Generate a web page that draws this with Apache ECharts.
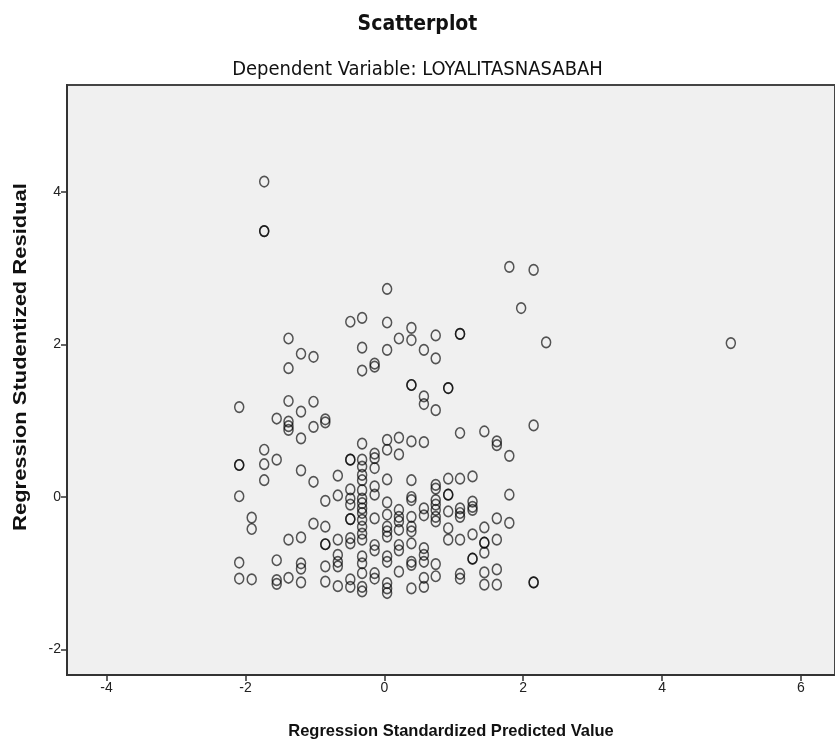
<!DOCTYPE html>
<html>
<head>
<meta charset="utf-8">
<script src="https://cdn.jsdelivr.net/npm/echarts@6/dist/echarts.min.js"></script>
<style>
html,body{margin:0;padding:0;background:#fff;}
#chart{width:835px;height:751px;}
</style>
</head>
<body>
<div id="chart"></div>
<script>
// Predicted value columns (x) and residuals (y) per column
const predictedColumns = [-2.09, -1.91, -1.73, -1.55, -1.38, -1.20, -1.02, -0.85, -0.67, -0.49, -0.32, -0.14, 0.04, 0.21, 0.39, 0.57, 0.74, 0.92, 1.09, 1.27, 1.44, 1.62, 1.80, 1.97, 2.15, 2.33, 4.99];
const residualsByColumn = [
  [1.18, 0.42, 0.42, 0.01, -0.86, -1.07],
  [-0.27, -0.42, -1.08],
  [4.14, 3.49, 3.49, 0.62, 0.43, 0.22],
  [1.03, 0.49, -0.83, -1.09, -1.14],
  [2.08, 1.69, 1.26, 0.99, 0.93, 0.88, -0.56, -1.06],
  [1.88, 1.12, 0.77, 0.35, -0.53, -0.87, -0.94, -1.12],
  [1.84, 1.25, 0.92, 0.20, -0.35],
  [1.02, 0.98, -0.05, -0.39, -0.62, -0.62, -0.91, -1.11],
  [0.28, 0.02, -0.56, -0.76, -0.85, -0.91, -1.17],
  [2.30, 0.49, 0.49, 0.10, -0.02, -0.10, -0.29, -0.29, -0.54, -0.61, -1.08, -1.18],
  [2.35, 1.96, 1.66, 0.70, 0.49, 0.40, 0.29, 0.22, 0.09, -0.02, -0.08, -0.15, -0.21, -0.30, -0.39, -0.48, -0.56, -0.78, -0.87, -1.00, -1.18, -1.24],
  [1.75, 1.71, 0.57, 0.51, 0.38, 0.14, 0.03, -0.28, -0.63, -0.70, -1.00, -1.07],
  [2.73, 2.29, 1.93, 0.75, 0.62, 0.23, -0.07, -0.23, -0.39, -0.45, -0.52, -0.78, -0.85, -1.13, -1.20, -1.26],
  [2.08, 0.78, 0.56, -0.17, -0.26, -0.32, -0.43, -0.63, -0.70, -0.98],
  [2.22, 2.06, 1.47, 1.47, 0.73, 0.22, 0.00, -0.04, -0.26, -0.39, -0.45, -0.61, -0.85, -0.89, -1.20],
  [1.93, 1.32, 1.22, 0.72, -0.15, -0.24, -0.67, -0.76, -0.85, -1.06, -1.18],
  [2.12, 1.82, 1.14, 0.16, 0.11, -0.04, -0.10, -0.17, -0.26, -0.32, -0.88, -1.04],
  [1.43, 1.43, 0.24, 0.03, 0.03, -0.19, -0.41, -0.56],
  [2.14, 2.14, 0.84, 0.24, -0.15, -0.21, -0.26, -0.56, -1.01, -1.07],
  [0.27, -0.06, -0.13, -0.17, -0.49, -0.81, -0.81],
  [0.86, -0.40, -0.60, -0.60, -0.73, -0.99, -1.15],
  [0.73, 0.68, -0.28, -0.56, -0.95, -1.15],
  [3.02, 0.54, 0.03, -0.34],
  [2.48],
  [2.98, 0.94, -1.12, -1.12],
  [2.03],
  [2.02]
];
const xTicks = [-4, -2, 0, 2, 4, 6];
const yTicks = [-2, 0, 2, 4];
const titleText = 'Scatterplot';
const subtitleText = 'Dependent Variable: LOYALITASNASABAH';
const xAxisTitle = 'Regression Standardized Predicted Value';
const yAxisTitle = 'Regression Studentized Residual';

const points = [];
predictedColumns.forEach((x, i) => {
  residualsByColumn[i].forEach(y => points.push([x, y]));
});

const TFONT = '"DejaVu Sans Condensed", "Liberation Sans", Arial, sans-serif';
const FONT = '"Liberation Sans", Arial, sans-serif';

const chart = echarts.init(document.getElementById('chart'), null, {renderer: 'canvas'});
chart.setOption({
  animation: false,
  backgroundColor: '#ffffff',
  title: [
    {text: titleText, left: 'center', top: 9,
     textStyle: {fontFamily: TFONT, fontSize: 21, fontWeight: 'bold', color: '#111'}},
    {text: subtitleText, left: 'center', top: 55,
     textStyle: {fontFamily: TFONT, fontSize: 20, fontWeight: 'normal', color: '#111'}}
  ],
  grid: {
    left: 67, top: 85, width: 771, height: 590,
    show: true, backgroundColor: '#f0f0f0', borderColor: '#444', borderWidth: 2
  },
  xAxis: {
    type: 'value', min: -4.57, max: 6.49,
    splitLine: {show: false},
    axisLine: {show: true, onZero: false, lineStyle: {color: '#333', width: 2}},
    axisTick: {show: true, customValues: xTicks, length: 6, lineStyle: {color: '#333', width: 1.5}},
    axisLabel: {customValues: xTicks, fontFamily: FONT, fontSize: 14, color: '#222', margin: 6},
    name: xAxisTitle, nameLocation: 'middle', nameGap: 48,
    nameTextStyle: {fontFamily: FONT, fontSize: 16.5, fontWeight: 'bold', color: '#111'}
  },
  yAxis: {
    type: 'value', min: -2.336, max: 5.407,
    splitLine: {show: false},
    axisLine: {show: true, onZero: false, lineStyle: {color: '#333', width: 2}},
    axisTick: {show: true, customValues: yTicks, length: 6, lineStyle: {color: '#333', width: 1.5}},
    axisLabel: {customValues: yTicks, fontFamily: FONT, fontSize: 14, color: '#222', margin: 6}
  },
  graphic: [{
    type: 'text', x: 21, y: 357, rotation: Math.PI / 2, scaleX: 1.22, scaleY: 1,
    style: {text: yAxisTitle, font: 'bold 18px ' + FONT, fill: '#111', align: 'center', verticalAlign: 'middle'}
  }],
  series: [{
    type: 'scatter',
    data: points,
    symbol: 'circle',
    symbolSize: [9, 10.5],
    itemStyle: {color: 'rgba(0,0,0,0)', borderColor: 'rgba(0,0,0,0.82)', borderWidth: 1.6},
    emphasis: {disabled: true}
  }]
});
</script>
</body>
</html>
